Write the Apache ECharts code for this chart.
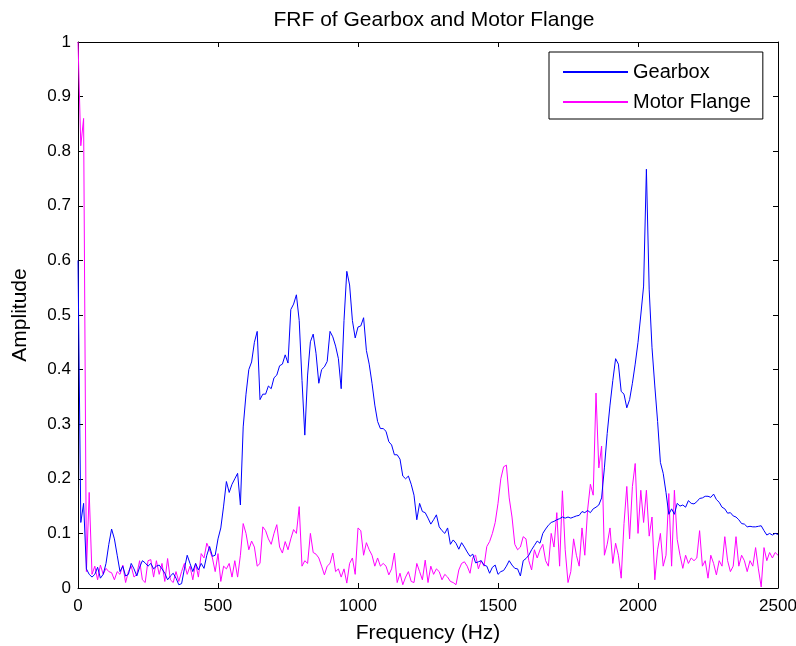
<!DOCTYPE html>
<html>
<head>
<meta charset="utf-8">
<script src="https://cdn.jsdelivr.net/npm/echarts@6/dist/echarts.min.js"></script>
<style>html,body{margin:0;padding:0;background:#fff;}#c{width:796px;height:646px;}</style>
</head>
<body>
<div id="c"></div>
<script>
// Frequency grid step (Hz) for the sampled FRF values below
var freqStep = 10;
var xTicks = [0, 500, 1000, 1500, 2000, 2500];
var yTicks = [0, 0.1, 0.2, 0.3, 0.4, 0.5, 0.6, 0.7, 0.8, 0.9, 1];
var seriesNames = ['Gearbox', 'Motor Flange'];

var gearbox = [
0.60,0.12,0.155,0.035,0.025,0.02,0.025,0.038,0.018,0.025,
0.045,0.08,0.108,0.09,0.06,0.03,0.04,0.022,0.025,0.045,
0.035,0.022,0.038,0.05,0.046,0.04,0.045,0.035,0.04,0.042,
0.035,0.027,0.015,0.022,0.027,0.018,0.006,0.008,0.035,0.06,
0.045,0.03,0.045,0.033,0.045,0.036,0.06,0.076,0.058,0.06,
0.09,0.11,0.15,0.195,0.175,0.19,0.2,0.21,0.152,0.295,
0.355,0.40,0.414,0.45,0.47,0.345,0.355,0.355,0.37,0.365,
0.385,0.39,0.407,0.41,0.427,0.412,0.51,0.52,0.537,0.49,
0.38,0.28,0.39,0.451,0.465,0.43,0.375,0.40,0.405,0.415,
0.47,0.46,0.443,0.42,0.365,0.49,0.58,0.555,0.49,0.458,
0.478,0.48,0.495,0.435,0.41,0.375,0.335,0.305,0.292,0.292,
0.287,0.268,0.262,0.244,0.244,0.236,0.205,0.2,0.205,0.19,
0.17,0.125,0.155,0.14,0.138,0.128,0.117,0.125,0.134,0.112,
0.105,0.1,0.11,0.08,0.088,0.082,0.071,0.083,0.075,0.066,
0.058,0.062,0.046,0.048,0.05,0.042,0.04,0.027,0.038,0.042,
0.025,0.03,0.032,0.04,0.05,0.042,0.036,0.035,0.022,0.05,
0.054,0.06,0.07,0.078,0.086,0.082,0.1,0.108,0.115,0.12,
0.122,0.125,0.127,0.13,0.128,0.13,0.128,0.13,0.132,0.133,
0.14,0.138,0.142,0.138,0.145,0.148,0.152,0.165,0.22,0.283,
0.335,0.38,0.42,0.41,0.36,0.355,0.33,0.345,0.375,0.41,
0.45,0.5,0.553,0.767,0.546,0.44,0.37,0.305,0.23,0.21,
0.175,0.135,0.145,0.135,0.155,0.15,0.152,0.148,0.16,0.155,
0.154,0.158,0.164,0.165,0.168,0.168,0.166,0.172,0.162,0.157,
0.148,0.145,0.137,0.138,0.132,0.13,0.125,0.118,0.117,0.112,
0.113,0.112,0.112,0.113,0.114,0.105,0.097,0.1,0.097,0.1,
0.098
];

var motorFlange = [
1.0,0.81,0.86,0.03,0.175,0.025,0.04,0.015,0.042,0.025,
0.036,0.03,0.028,0.015,0.03,0.025,0.042,0.01,0.03,0.04,
0.02,0.025,0.05,0.015,0.01,0.05,0.052,0.02,0.05,0.025,
0.045,0.012,0.054,0.015,0.01,0.03,0.012,0.03,0.045,0.025,
0.04,0.015,0.045,0.02,0.063,0.055,0.082,0.07,0.055,0.03,
0.063,0.012,0.04,0.035,0.045,0.02,0.05,0.02,0.06,0.118,
0.1,0.07,0.086,0.075,0.04,0.045,0.112,0.105,0.09,0.08,
0.1,0.116,0.075,0.064,0.085,0.07,0.09,0.107,0.1,0.149,
0.04,0.05,0.045,0.1,0.065,0.062,0.055,0.04,0.024,0.04,
0.045,0.064,0.03,0.035,0.02,0.035,0.009,0.045,0.055,0.025,
0.11,0.105,0.06,0.083,0.07,0.06,0.04,0.055,0.04,0.045,
0.04,0.024,0.035,0.064,0.01,0.027,0.006,0.02,0.03,0.012,
0.01,0.045,0.03,0.015,0.051,0.01,0.04,0.025,0.035,0.03,
0.015,0.025,0.02,0.012,0.01,0.006,0.033,0.045,0.048,0.04,
0.027,0.056,0.06,0.035,0.05,0.04,0.076,0.085,0.1,0.12,
0.155,0.2,0.222,0.225,0.165,0.13,0.08,0.07,0.075,0.094,
0.09,0.05,0.033,0.07,0.055,0.07,0.08,0.05,0.04,0.1,
0.075,0.138,0.04,0.178,0.07,0.01,0.03,0.09,0.06,0.04,
0.11,0.06,0.143,0.19,0.17,0.357,0.22,0.26,0.06,0.08,
0.11,0.045,0.082,0.06,0.018,0.118,0.186,0.09,0.186,0.228,
0.1,0.179,0.12,0.179,0.095,0.13,0.015,0.07,0.1,0.04,
0.06,0.173,0.04,0.179,0.089,0.06,0.036,0.06,0.045,0.055,
0.05,0.055,0.105,0.04,0.05,0.018,0.06,0.045,0.024,0.05,
0.04,0.094,0.05,0.03,0.04,0.094,0.04,0.06,0.05,0.03,
0.05,0.04,0.074,0.035,0.002,0.074,0.05,0.065,0.055,0.065,
0.06
];

function pairs(vals) {
  return vals.map(function (v, i) { return [i * freqStep, v]; });
}

var FONT = 'Liberation Sans';
var chart = echarts.init(document.getElementById('c'), null, {renderer: 'canvas'});

function xAx(pos, showLabel) {
  return {
    type: 'value', position: pos, min: xTicks[0], max: xTicks[xTicks.length - 1],
    interval: xTicks[1] - xTicks[0],
    axisLine: {show: true, onZero: false, lineStyle: {color: '#000', width: 1}},
    axisTick: {show: true, inside: true, length: 5, lineStyle: {color: '#000'}},
    axisLabel: {show: showLabel, color: '#000', fontSize: 17, fontFamily: FONT, margin: 10,
      formatter: function (v) { return String(v); }},
    splitLine: {show: false},
    name: showLabel ? 'Frequency (Hz)' : '',
    nameLocation: 'middle', nameGap: 35,
    nameTextStyle: {color: '#000', fontSize: 21, fontFamily: FONT}
  };
}
function yAx(pos, showLabel) {
  return {
    type: 'value', position: pos, min: yTicks[0], max: yTicks[yTicks.length - 1],
    interval: 0.1,
    axisLine: {show: true, onZero: false, lineStyle: {color: '#000', width: 1}},
    axisTick: {show: true, inside: true, length: 5, lineStyle: {color: '#000'}},
    axisLabel: {show: showLabel, color: '#000', fontSize: 17, fontFamily: FONT, margin: 7,
      formatter: function (v) { return String(Math.round(v * 10) / 10); }},
    splitLine: {show: false},
    name: showLabel ? 'Amplitude' : '',
    nameLocation: 'middle', nameGap: 47,
    nameTextStyle: {color: '#000', fontSize: 21, fontFamily: FONT}
  };
}

chart.setOption({
  animation: false,
  backgroundColor: '#fff',
  title: {
    text: 'FRF of Gearbox and Motor Flange',
    left: 429, top: 5, textAlign: 'center',
    textStyle: {color: '#000', fontSize: 21, fontWeight: 'normal', fontFamily: FONT}
  },
  grid: {left: 78, right: 18, top: 42, bottom: 58, containLabel: false, outerBoundsMode: 'none'},
  legend: {
    data: seriesNames,
    orient: 'vertical',
    left: 549, top: 52,
    backgroundColor: '#fff',
    borderColor: '#000', borderWidth: 1,
    padding: [10, 12, 7, 13],
    itemWidth: 65, itemHeight: 20, itemGap: 10,
    itemStyle: {opacity: 0},
    textStyle: {color: '#000', fontSize: 20, fontFamily: FONT},
    selectedMode: false
  },
  xAxis: [xAx('bottom', true), xAx('top', false)],
  yAxis: [yAx('left', true), yAx('right', false)],
  series: [
    {name: seriesNames[0], type: 'line', data: pairs(gearbox), xAxisIndex: 0, yAxisIndex: 0,
     showSymbol: false, symbol: 'none', lineStyle: {color: '#0000ff', width: 1}, itemStyle: {color: '#0000ff'}, z: 3},
    {name: seriesNames[1], type: 'line', data: pairs(motorFlange), xAxisIndex: 0, yAxisIndex: 0,
     showSymbol: false, symbol: 'none', lineStyle: {color: '#ff00ff', width: 1}, itemStyle: {color: '#ff00ff'}, z: 2}
  ]
});
</script>
</body>
</html>
